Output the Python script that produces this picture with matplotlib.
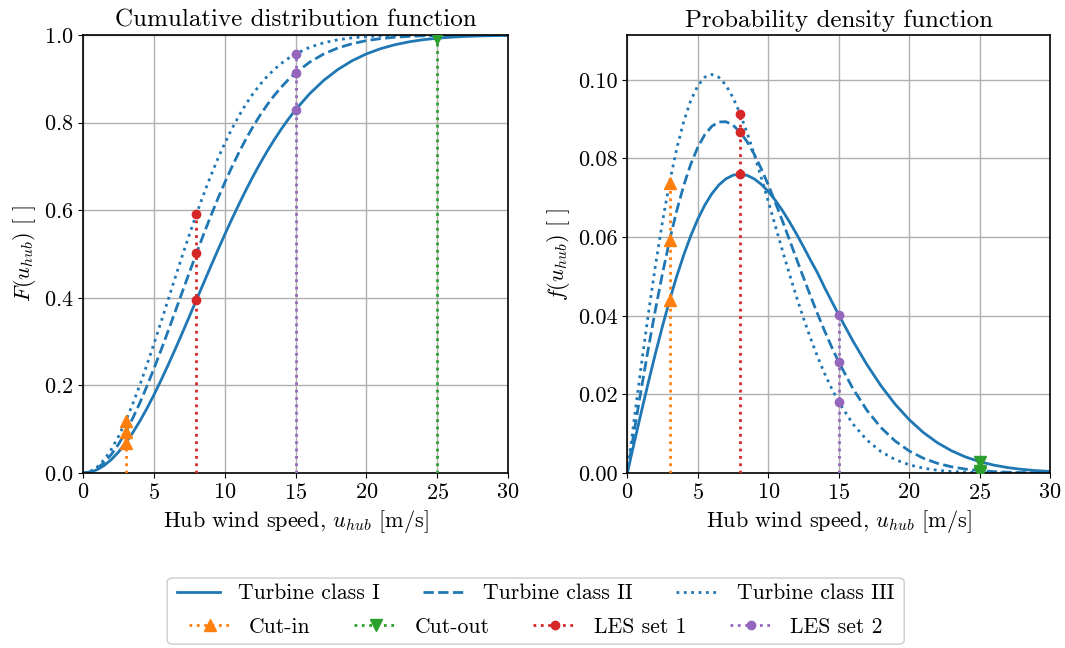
import matplotlib
matplotlib.use("Agg")
import matplotlib.pyplot as plt
from matplotlib.lines import Line2D
from matplotlib.patches import FancyBboxPatch

plt.rcParams["font.family"] = "serif"
plt.rcParams["font.serif"] = ["cmr10"]
plt.rcParams["mathtext.fontset"] = "cm"
plt.rcParams["axes.formatter.use_mathtext"] = True
plt.rcParams["font.size"] = 16

# Hub wind speed grid [m/s], finer below 15 m/s where the curves bend most
u_hub = [0, 0.5, 1, 1.5, 2, 2.5, 3, 3.5, 4, 4.5, 5, 5.5, 6, 6.5, 7, 7.5,
         8, 8.5, 9, 9.5, 10, 10.5, 11, 11.5, 12, 12.5, 13, 13.5, 14, 14.5,
         15, 16, 17, 18, 19, 20, 21, 22, 23, 24, 25, 26, 27, 28, 29, 30]

# Cumulative distribution, one list per turbine class
cdf_I = [0.0, 0.0020, 0.0078, 0.0175, 0.0309, 0.0479, 0.0683, 0.0917,
         0.1181, 0.1470, 0.1783, 0.2115, 0.2463, 0.2824, 0.3194, 0.3571,
         0.3951, 0.4330, 0.4707, 0.5078, 0.5441, 0.5793, 0.6134, 0.6461,
         0.6773, 0.7069, 0.7348, 0.7610, 0.7855, 0.8082, 0.8292,
         0.8661, 0.8967, 0.9215, 0.9413, 0.9568, 0.9687, 0.9777, 0.9843,
         0.9892, 0.9926, 0.9951, 0.9967, 0.9979, 0.9986, 0.9991]
cdf_II = [0.0, 0.0027, 0.0108, 0.0242, 0.0426, 0.0657, 0.0932, 0.1247,
          0.1596, 0.1976, 0.2380, 0.2802, 0.3238, 0.3683, 0.4130, 0.4574,
          0.5013, 0.5441, 0.5854, 0.6251, 0.6628, 0.6984, 0.7316, 0.7625,
          0.7910, 0.8170, 0.8407, 0.8621, 0.8812, 0.8983, 0.9133,
          0.9381, 0.9568, 0.9705, 0.9802, 0.9871, 0.9917, 0.9948, 0.9968,
          0.9981, 0.9989, 0.9994, 0.9996, 0.9998, 0.9999, 0.9999]
cdf_III = [0.0, 0.0035, 0.0139, 0.0309, 0.0543, 0.0836, 0.1181, 0.1572,
           0.2002, 0.2463, 0.2947, 0.3445, 0.3951, 0.4456, 0.4955, 0.5441,
           0.5908, 0.6353, 0.6773, 0.7164, 0.7525, 0.7855, 0.8154, 0.8422,
           0.8661, 0.8871, 0.9056, 0.9215, 0.9352, 0.9469, 0.9568,
           0.9720, 0.9823, 0.9892, 0.9935, 0.9962, 0.9979, 0.9988, 0.9994,
           0.9997, 0.9998, 0.9999, 1.0, 1.0, 1.0, 1.0]

# Probability density, one list per turbine class
pdf_I = [0.0, 0.00784, 0.01559, 0.02315, 0.03044, 0.03739, 0.04391, 0.04994,
         0.05541, 0.06029, 0.06454, 0.06813, 0.07104, 0.07327, 0.07483, 0.07574,
         0.07602, 0.07570, 0.07483, 0.07345, 0.07162, 0.06938, 0.06680, 0.06393,
         0.06083, 0.05755, 0.05415, 0.05088, 0.04717, 0.04369, 0.04025,
         0.03365, 0.02759, 0.02219, 0.01752, 0.01358, 0.01033, 0.00772, 0.00567,
         0.00409, 0.00290, 0.00202, 0.00138, 0.00093, 0.00062, 0.00040]
pdf_II = [0.0, 0.01084, 0.02151, 0.03182, 0.04163, 0.05078, 0.05915, 0.06661,
          0.07308, 0.07850, 0.08284, 0.08607, 0.08820, 0.08928, 0.08934, 0.08847,
          0.08674, 0.08426, 0.08112, 0.07743, 0.07331, 0.06886, 0.06419, 0.05938,
          0.05453, 0.04972, 0.04502, 0.04048, 0.03615, 0.03207, 0.02826,
          0.02152, 0.01597, 0.01156, 0.00816, 0.00562, 0.00378, 0.00248, 0.00159,
          0.00100, 0.00061, 0.00036, 0.00021, 0.00012, 0.00007, 0.00004]
pdf_III = [0.0, 0.01391, 0.02754, 0.04059, 0.05282, 0.06398, 0.07388, 0.08237,
           0.08934, 0.09472, 0.09849, 0.10068, 0.10136, 0.10063, 0.09862, 0.09549,
           0.09141, 0.08656, 0.08111, 0.07524, 0.06912, 0.06290, 0.05671, 0.05067,
           0.04487, 0.03939, 0.03429, 0.02959, 0.02533, 0.02150, 0.01810,
           0.01252, 0.00839, 0.00545, 0.00343, 0.00210, 0.00124, 0.00071, 0.00040,
           0.00022, 0.00011, 0.00006, 0.00003, 0.00001, 0.00001, 0.0]

class_names = ["Turbine class I", "Turbine class II", "Turbine class III"]
class_styles = ["-", "--", ":"]

# Reference speeds marked on both panels
event_names = ["Cut-in", "Cut-out", "LES set 1", "LES set 2"]
event_speeds = [3, 25, 8, 15]
event_colors = ["C1", "C2", "C3", "C4"]
event_markers = ["^", "v", "o", "o"]
event_msize = [9, 9, 6, 6]

fig = plt.figure(figsize=(10.65, 6.48), dpi=100)
ax1 = fig.add_axes([0.078, 0.270, 0.399, 0.676])
ax2 = fig.add_axes([0.589, 0.270, 0.397, 0.676])

panels = [
    (ax1, [cdf_I, cdf_II, cdf_III], "Cumulative distribution function",
     r"$F(u_{hub})$ [ ]"),
    (ax2, [pdf_I, pdf_II, pdf_III], "Probability density function",
     r"$f(u_{hub})$ [ ]"),
]

for ax, curves, title, ylabel in panels:
    for vals, name, ls in zip(curves, class_names, class_styles):
        ax.plot(u_hub, vals, color="C0", linestyle=ls, linewidth=2, label=name)

    for name, s, col, mk, ms in zip(event_names, event_speeds, event_colors,
                                    event_markers, event_msize):
        pts = [vals[u_hub.index(s)] for vals in curves]
        ax.plot([s, s], [0, max(pts)], color=col, linestyle=":", linewidth=2,
                zorder=3)
        ax.plot([s] * len(pts), pts, color=col, linestyle="none", marker=mk,
                markersize=ms, zorder=4)

    ax.set_xlim(0, 30)
    ax.set_xticks(range(0, 31, 5))
    ax.grid(True, color="#b0b0b0", linewidth=1)
    ax.set_axisbelow(True)
    ax.set_title(title, fontsize=18)
    ax.set_xlabel(r"Hub wind speed, $u_{hub}$ [m/s]")
    ax.set_ylabel(ylabel)
    for sp in ax.spines.values():
        sp.set_linewidth(1.2)

ax1.set_ylim(0, 1.0)
ax2.set_ylim(0, 0.1114)
ax2.set_yticks([0.0, 0.02, 0.04, 0.06, 0.08, 0.10])
ax2.set_yticklabels(["0.00", "0.02", "0.04", "0.06", "0.08", "0.10"])

# Legend: curves on the first row, reference speeds on the second
h_classes = [Line2D([], [], color="C0", linestyle=ls, linewidth=2)
             for ls in class_styles]
h_events = [Line2D([], [], color=c, linestyle=":", linewidth=2, marker=m,
                   markersize=ms)
            for c, m, ms in zip(event_colors, event_markers, event_msize)]

frame = FancyBboxPatch((0.157, 0.006), 0.692, 0.102,
                       boxstyle="round,pad=0,rounding_size=0.006",
                       transform=fig.transFigure, facecolor="white",
                       edgecolor="#cccccc", linewidth=1)
fig.patches.append(frame)

fig.legend(h_classes, class_names, loc="center", bbox_to_anchor=(0.503, 0.084),
           ncol=3, frameon=False, fontsize=15.6)
fig.legend(h_events, event_names, loc="center", bbox_to_anchor=(0.503, 0.032),
           ncol=4, frameon=False, fontsize=15.6)

fig.savefig("out.png", dpi=100)
